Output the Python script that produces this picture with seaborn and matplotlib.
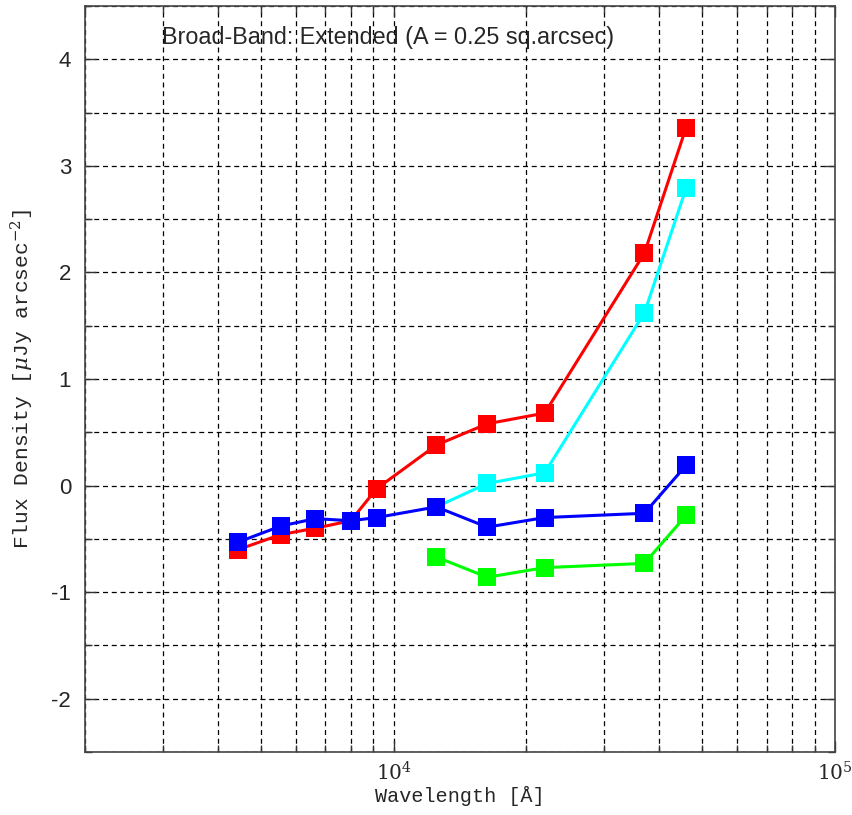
import numpy as np
import pandas as pd
import matplotlib
matplotlib.use("Agg")
import matplotlib.pyplot as plt
import matplotlib.ticker as mticker
import seaborn as sns

# Band wavelengths (Angstrom)
wave_all = [4450, 5550, 6650, 8000, 9150, 12500, 16300, 22000, 37000, 46000]
wave_ir = [12500, 16300, 22000, 37000, 46000]

# Flux densities per series
flux_red = [-0.60, -0.46, -0.40, -0.33, -0.03, 0.38, 0.58, 0.68, 2.18, 3.36]
flux_cyan = [-0.20, 0.02, 0.12, 1.62, 2.79]
flux_green = [-0.67, -0.86, -0.77, -0.73, -0.28]
flux_blue = [-0.53, -0.38, -0.31, -0.33, -0.30, -0.20, -0.39, -0.30, -0.26, 0.19]

series_order = ["red", "cyan", "green", "blue"]
series_colors = {"red": "#ff0000", "cyan": "#00ffff", "green": "#00ff00", "blue": "#0000ff"}

df = pd.concat([
    pd.DataFrame({"wave": wave_all, "flux": flux_red, "series": "red"}),
    pd.DataFrame({"wave": wave_ir, "flux": flux_cyan, "series": "cyan"}),
    pd.DataFrame({"wave": wave_ir, "flux": flux_green, "series": "green"}),
    pd.DataFrame({"wave": wave_all, "flux": flux_blue, "series": "blue"}),
], ignore_index=True)

sns.set_style("ticks")
plt.rcParams["font.family"] = ["Liberation Sans", "DejaVu Sans"]
plt.rcParams["mathtext.fontset"] = "dejavuserif"

fig = plt.figure(figsize=(8.52, 8.15), dpi=100)
ax = fig.add_axes([0.0998, 0.0773, 0.8802, 0.9153])

# grid first so the data sit on top
ax.set_xscale("log")
ax.set_xlim(2000, 1e5)
ax.set_ylim(-2.5, 4.5)
ax.yaxis.set_major_locator(mticker.MultipleLocator(1))
ax.yaxis.set_minor_locator(mticker.MultipleLocator(0.5))
ax.xaxis.set_major_locator(mticker.LogLocator(base=10))
ax.xaxis.set_minor_locator(mticker.LogLocator(base=10, subs=np.arange(2, 10)))
ax.xaxis.set_minor_formatter(mticker.NullFormatter())
ax.grid(True, which="both", color="black", linestyle=(0, (4, 3)), linewidth=0.9)
ax.set_axisbelow(True)

sns.lineplot(data=df, x="wave", y="flux", hue="series", hue_order=series_order,
             palette=series_colors, marker="s", markersize=13, markeredgewidth=0,
             linewidth=2.2, sort=False, legend=False, ax=ax, estimator=None)

ax.set_xticks([1e4, 1e5])
ax.set_xticklabels([r"$10^4$", r"$10^5$"], fontsize=14.5)
ax.set_yticks([-2, -1, 0, 1, 2, 3, 4])
ax.set_yticklabels(["-2", "-1", "0", "1", "2", "3", "4"], fontsize=16)

ax.tick_params(which="both", direction="in", top=True, right=True, color="#333333")
ax.tick_params(which="major", length=8, width=1)
ax.tick_params(which="minor", length=5, width=1)
ax.tick_params(axis="y", which="major", pad=10)
ax.tick_params(axis="x", which="major", pad=7)

for s in ax.spines.values():
    s.set_color("#444444")
    s.set_linewidth(1.2)

ax.set_xlabel(r"Wavelength [Å]", family="Liberation Mono", fontsize=14.5, labelpad=1)
ax.set_ylabel(r"Flux Density [$\mu$Jy arcsec$^{-2}$]", family="Liberation Mono",
              fontsize=15.3)
ax.yaxis.set_label_coords(-0.066, 0.5)

ax.text(0.103, 0.958, "Broad-Band: Extended (A = 0.25 sq.arcsec)", transform=ax.transAxes,
        fontsize=16.8, ha="left", va="center")

fig.savefig("out.png", dpi=100)
